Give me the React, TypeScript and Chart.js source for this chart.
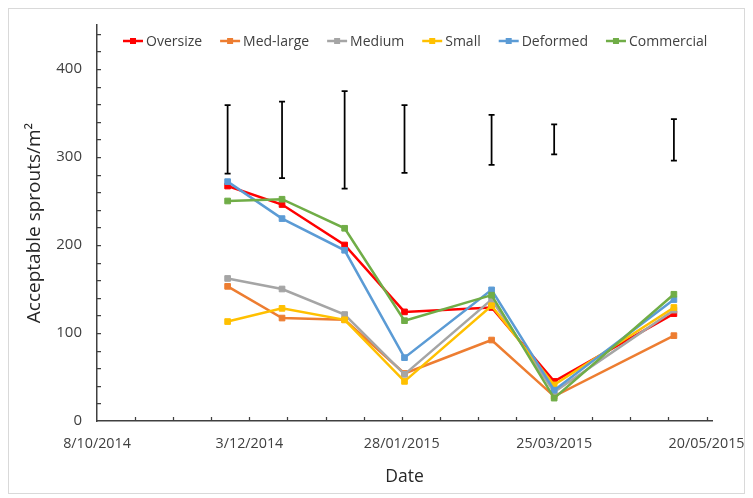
import React, { useEffect, useRef } from 'react';
import { Chart, registerables } from 'chart.js';

Chart.register(...registerables);

// ---- data ----
const axisStartDate = '2014-10-08';
const axisEndDays = 226;
const sampleDates = ['2014-11-25', '2014-12-15', '2015-01-07', '2015-01-29', '2015-03-02', '2015-03-25', '2015-05-08'];
const xTickLabels = ['8/10/2014', '3/12/2014', '28/01/2015', '25/03/2015', '20/05/2015'];
const yTickLabels = ['0', '100', '200', '300', '400'];

const oversize = [267, 246, 200, 124, 129, 45, 122];
const medLarge = [153, 117, 115, 54, 92, 28, 97];
const medium = [162, 150, 121, 53, 138, 33, 126];
const small = [113, 128, 115, 45, 131, 41, 129];
const deformed = [272, 230, 194, 72, 149, 35, 138];
const commercial = [250, 252, 219, 114, 143, 26, 144];

const errLow = [281, 276, 264, 282, 291, 303, 296];
const errHigh = [359, 363, 375, 359, 348, 337, 343];

const seriesNames = ['Oversize', 'Med-large', 'Medium', 'Small', 'Deformed', 'Commercial'];
const seriesColors = ['#FF0000', '#ED7D31', '#A5A5A5', '#FFC000', '#5B9BD5', '#70AD47'];
const seriesValues = [oversize, medLarge, medium, small, deformed, commercial];

const FONT = "'Open Sans', sans-serif";

const dayOffset = (s: string) => Math.round((Date.parse(s) - Date.parse(axisStartDate)) / 86400000);
const xDays = sampleDates.map(dayOffset);

const decorPlugin = {
  id: 'excelDecor',
  afterDatasetsDraw(chart: any) {
    const { ctx, scales } = chart;
    const xs = scales.x;
    const ys = scales.y;
    ctx.save();
    ctx.strokeStyle = '#000000';
    ctx.lineWidth = 1.75;
    for (let i = 0; i < xDays.length; i++) {
      const px = xs.getPixelForValue(xDays[i]);
      const pLo = ys.getPixelForValue(errLow[i]);
      const pHi = ys.getPixelForValue(errHigh[i]);
      ctx.beginPath();
      ctx.moveTo(px, pLo);
      ctx.lineTo(px, pHi);
      ctx.moveTo(px - 3, pLo);
      ctx.lineTo(px + 3, pLo);
      ctx.moveTo(px - 3, pHi);
      ctx.lineTo(px + 3, pHi);
      ctx.stroke();
    }
    ctx.restore();
  },
  afterDraw(chart: any) {
    const { ctx, scales, chartArea } = chart;
    const xs = scales.x;
    const ys = scales.y;
    ctx.save();
    // inside tick marks
    ctx.strokeStyle = '#404040';
    ctx.lineWidth = 1.25;
    ctx.beginPath();
    xs.ticks.forEach((t: any) => {
      if (t.value % 14 === 0 && t.value > 0 && t.value <= xs.max) {
        const px = Math.round(xs.getPixelForValue(t.value)) + 0.5;
        ctx.moveTo(px, chartArea.bottom);
        ctx.lineTo(px, chartArea.bottom - 4);
      }
    });
    ys.ticks.forEach((t: any) => {
      if (t.value % 20 === 0 && t.value > 0 && t.value <= ys.max) {
        const py = Math.round(ys.getPixelForValue(t.value)) + 0.5;
        ctx.moveTo(chartArea.left, py);
        ctx.lineTo(chartArea.left + 4, py);
      }
    });
    ctx.stroke();

    // legend
    ctx.font = `14px ${FONT}`;
    ctx.textBaseline = 'middle';
    ctx.textAlign = 'left';
    let x = chartArea.left + 26;
    const y = chartArea.top + 16;
    seriesNames.forEach((name, i) => {
      const c = seriesColors[i];
      ctx.strokeStyle = c;
      ctx.lineWidth = 2.5;
      ctx.beginPath();
      ctx.moveTo(x, y);
      ctx.lineTo(x + 20, y);
      ctx.stroke();
      ctx.fillStyle = c;
      ctx.fillRect(x + 7, y - 3, 6, 6);
      ctx.fillStyle = '#404040';
      ctx.fillText(name, x + 23, y + 1);
      x += 23 + ctx.measureText(name).width + 18;
    });
    ctx.restore();
  },
};

export default function App() {
  const ref = useRef<HTMLCanvasElement | null>(null);

  useEffect(() => {
    if (!ref.current) return;
    const datasets = seriesNames.map((name, i) => ({
      label: name,
      data: seriesValues[i].map((v, j) => ({ x: xDays[j], y: v })),
      borderColor: seriesColors[i],
      backgroundColor: seriesColors[i],
      pointBackgroundColor: seriesColors[i],
      pointBorderColor: seriesColors[i],
      pointBorderWidth: 1,
      pointStyle: 'rect' as const,
      pointRadius: 4,
      borderWidth: 2.5,
      tension: 0,
      fill: false,
      order: seriesNames.length - i,
    }));

    const chart = new Chart(ref.current, {
      type: 'line',
      data: { datasets },
      plugins: [decorPlugin],
      options: {
        responsive: false,
        animation: false,
        layout: { padding: { left: 14, right: 32, top: 16, bottom: 5 }, autoPadding: false },
        plugins: { legend: { display: false }, tooltip: { enabled: false } },
        scales: {
          x: {
            type: 'linear',
            bounds: 'data',
            min: 0,
            max: axisEndDays,
            grid: { display: false, drawTicks: false },
            border: { display: true, color: '#404040', width: 1.5 },
            ticks: {
              stepSize: 14,
              includeBounds: false,
              autoSkip: false,
              maxRotation: 0,
              minRotation: 0,
              padding: 14,
              color: '#404040',
              font: { family: FONT, size: 14.3 },
              callback: (v: any) => (v % 56 === 0 ? xTickLabels[v / 56] ?? '' : ''),
            },
            title: { display: true, text: 'Date', color: '#262626', font: { family: FONT, size: 17.5 }, padding: 0 },
            afterFit: (s: any) => {
              s.height = 67;
              s.paddingLeft = 0;
              s.paddingRight = 0;
            },
          },
          y: {
            type: 'linear',
            bounds: 'data',
            min: 0,
            max: 450,
            grid: { display: false, drawTicks: false },
            border: { display: true, color: '#404040', width: 1.5 },
            ticks: {
              stepSize: 20,
              autoSkip: false,
              padding: 15,
              color: '#404040',
              font: { family: FONT, size: 15 },
              callback: (v: any) => (v % 100 === 0 ? yTickLabels[v / 100] ?? '' : ''),
            },
            title: {
              display: true,
              text: 'Acceptable sprouts/m²',
              color: '#262626',
              font: { family: FONT, size: 19 },
              padding: 0,
            },
            afterFit: (s: any) => {
              s.width = 74;
              s.paddingTop = 0;
              s.paddingBottom = 0;
            },
          },
        },
      },
    });
    return () => chart.destroy();
  }, []);

  return (
    <div style={{ width: 735, height: 484, border: '1px solid #d9d9d9', background: '#fff' }}>
      <canvas ref={ref} width={735} height={484} style={{ display: 'block' }} />
    </div>
  );
}
